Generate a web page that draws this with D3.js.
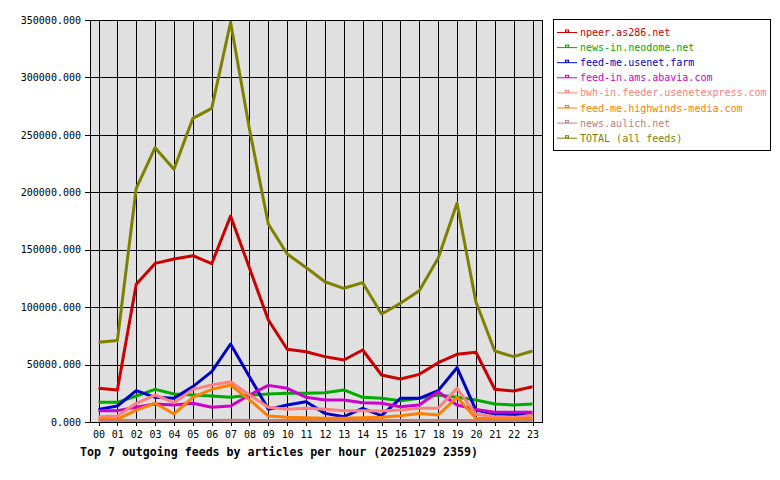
<!DOCTYPE html>
<html>
<head>
<meta charset="utf-8">
<script src="https://cdn.jsdelivr.net/npm/d3@7"></script>
<style>
  body { margin: 0; background: #fff; }
  svg text { font-family: "DejaVu Sans Mono", "Liberation Mono", monospace; }
</style>
</head>
<body>
<div id="frame"></div>
<script>
// hours on the x axis
let hours = ["00","01","02","03","04","05","06","07","08","09","10","11",
             "12","13","14","15","16","17","18","19","20","21","22","23"];

// feed names, colours (legend order)
let feedNames = ["npeer.as286.net", "news-in.neodome.net", "feed-me.usenet.farm",
  "feed-in.ams.abavia.com", "bwh-in.feeder.usenetexpress.com",
  "feed-me.highwinds-media.com", "news.aulich.net", "TOTAL (all feeds)"];
let feedColors = ["#cc0000", "#00aa00", "#0000cc", "#cc00cc", "#ff8080",
  "#ff8000", "#c08080", "#808000"];

// articles per hour
let npeer = [29300, 27900, 119900, 138100, 141900, 144800, 137800, 179300, 134000, 88800, 63300, 61200,
             56900, 54000, 62700, 40900, 37400, 41500, 51600, 58900, 60700, 28500, 27000, 30700];
let neodome = [17100, 17100, 22600, 28400, 24400, 23500, 22600, 21500, 23200, 24400, 25000, 25000,
               25500, 27900, 21500, 20600, 18600, 20600, 23500, 21500, 19200, 15700, 14800, 15700];
let usenetFarm = [11000, 13900, 27300, 21500, 20600, 30800, 43800, 67900, 39500, 11000, 14800, 17700,
                  7500, 4600, 11900, 5500, 20600, 20600, 27300, 47300, 10400, 7000, 6700, 6500];
let abavia = [9900, 9900, 12800, 15700, 14800, 16300, 12800, 13900, 23500, 31900, 29300, 21500,
              19200, 19200, 16800, 16300, 13300, 14800, 26400, 14800, 11000, 8400, 8400, 8400];
let usenetexpress = [4600, 5200, 16300, 23500, 16800, 28400, 32200, 35100, 23500, 12800, 11000, 11900,
                     11000, 9900, 9900, 9600, 10400, 11900, 11900, 29300, 6700, 4600, 3800, 6100];
let highwinds = [2300, 2300, 10400, 16300, 7000, 21500, 28400, 32200, 19200, 5200, 4100, 3800,
                 3200, 3200, 3800, 4100, 5500, 7500, 6100, 21500, 3200, 2600, 2600, 3200];
let aulich = [1200, 1200, 1300, 1400, 1300, 1400, 1400, 1500, 1400, 1300, 1300, 1300,
              1300, 1300, 1300, 1200, 1200, 1300, 1300, 1400, 1200, 1200, 1200, 1200];
let total = [69400, 71000, 203500, 238800, 220000, 264400, 273100, 348000, 255000, 172400, 146300, 134500,
             122100, 116400, 121300, 94000, 103300, 114300, 142500, 190400, 104700, 61800, 56900, 61800];

let series = [npeer, neodome, usenetFarm, abavia, usenetexpress, highwinds, aulich, total];

let yTicks = [0, 50000, 100000, 150000, 200000, 250000, 300000, 350000];
let title = "Top 7 outgoing feeds by articles per hour (20251029 2359)";

//Dimensions
let plot = { left: 90, right: 542, top: 20, bottom: 422 };

let svg = d3.select('#frame')
    .append('svg')
    .attr('width', 780)
    .attr('height', 480);

svg.append('rect')
    .attr('width', 780).attr('height', 480)
    .attr('fill', '#fff');

//scales
let x = d3.scalePoint()
    .domain(hours)
    .range([98.5, 532.5]);

let y = d3.scaleLinear()
    .domain([0, 350000])
    .range([plot.bottom, plot.top]);

//plot background
svg.append('rect')
    .attr('x', plot.left)
    .attr('y', plot.top)
    .attr('width', plot.right - plot.left)
    .attr('height', plot.bottom - plot.top)
    .attr('fill', '#e0e0e0');

//vertical grid
svg.append('g')
    .attr('transform', 'translate(0,' + plot.top + ')')
    .call(d3.axisBottom(x).tickSize(plot.bottom - plot.top).tickFormat(''))
    .call(g => g.select('.domain').remove())
    .call(g => g.selectAll('line').attr('stroke', '#000').attr('shape-rendering', 'crispEdges'));

//horizontal grid
svg.append('g')
    .attr('transform', 'translate(' + plot.left + ',0)')
    .call(d3.axisRight(y).tickValues(yTicks).tickSize(plot.right - plot.left).tickFormat(''))
    .call(g => g.select('.domain').remove())
    .call(g => g.selectAll('line').attr('stroke', '#000').attr('shape-rendering', 'crispEdges'));

//frame
svg.append('rect')
    .attr('x', plot.left + 0.5)
    .attr('y', plot.top + 0.5)
    .attr('width', plot.right - plot.left)
    .attr('height', plot.bottom - plot.top)
    .attr('fill', 'none')
    .attr('stroke', '#000');

//y axis
svg.append('g')
    .attr('transform', 'translate(' + plot.left + ',0)')
    .call(d3.axisLeft(y).tickValues(yTicks).tickSize(5).tickPadding(4).tickFormat(d3.format('.3f')))
    .call(g => g.select('.domain').remove())
    .call(g => g.selectAll('line').attr('stroke', '#000').attr('shape-rendering', 'crispEdges'))
    .call(g => g.selectAll('text').attr('font-size', '10px').attr('fill', '#000')
        .attr('font-family', '"DejaVu Sans Mono", monospace'));

//x axis
svg.append('g')
    .attr('transform', 'translate(0,' + plot.bottom + ')')
    .call(d3.axisBottom(x).tickSize(4).tickPadding(5))
    .call(g => g.select('.domain').remove())
    .call(g => g.selectAll('line').attr('stroke', '#000').attr('shape-rendering', 'crispEdges'))
    .call(g => g.selectAll('text').attr('font-size', '10px').attr('fill', '#000')
        .attr('font-family', '"DejaVu Sans Mono", monospace'));

//lines
let line = d3.line()
    .x((d, i) => x(hours[i]))
    .y(d => y(d));

svg.append('g')
    .selectAll('path')
    .data(series)
    .enter()
    .append('path')
    .attr('d', d => line(d))
    .attr('fill', 'none')
    .attr('stroke', (d, i) => feedColors[i])
    .attr('stroke-width', 3)
    .attr('stroke-linejoin', 'round');

//title
svg.append('text')
    .attr('x', 80)
    .attr('y', 456)
    .attr('font-size', '11.6px')
    .attr('font-weight', 'bold')
    .attr('fill', '#000')
    .text(title);

//legend
let legend = svg.append('g');
legend.append('rect')
    .attr('x', 553.5).attr('y', 19.5)
    .attr('width', 217).attr('height', 131)
    .attr('fill', '#fff').attr('stroke', '#000');

let rows = legend.selectAll('g.row')
    .data(feedNames)
    .enter()
    .append('g')
    .attr('class', 'row')
    .attr('transform', (d, i) => 'translate(0,' + (32.5 + i * 15.1) + ')');

rows.append('line')
    .attr('x1', 557).attr('x2', 577)
    .attr('y1', 0).attr('y2', 0)
    .attr('stroke', (d, i) => feedColors[i]);
rows.append('rect')
    .attr('x', 565.5).attr('y', -2.5)
    .attr('width', 3).attr('height', 2)
    .attr('fill', '#fff')
    .attr('stroke', (d, i) => feedColors[i]);
rows.append('text')
    .attr('x', 580).attr('y', 3.5)
    .attr('font-size', '10px')
    .attr('fill', (d, i) => feedColors[i])
    .text(d => d);
</script>
</body>
</html>
